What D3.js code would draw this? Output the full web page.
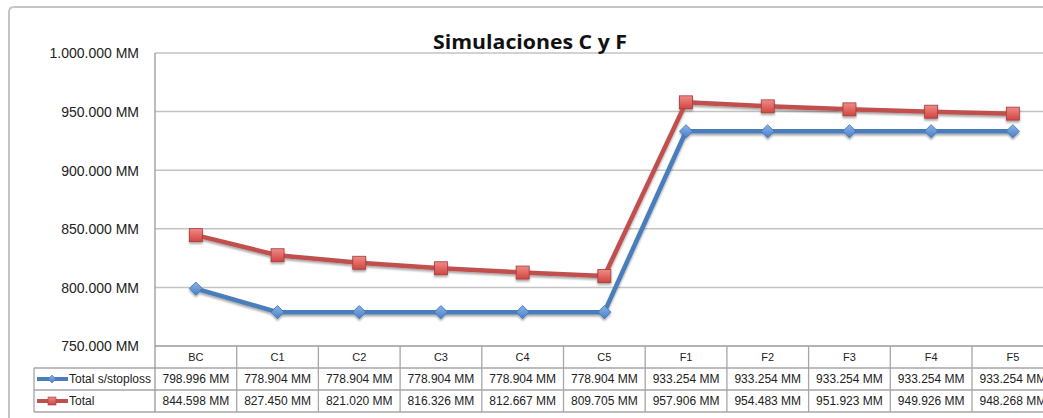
<!DOCTYPE html>
<html><head><meta charset="utf-8">
<script src="https://cdn.jsdelivr.net/npm/d3@7"></script>
<style>
html,body{margin:0;padding:0;background:#fff;}
svg{display:block;font-family:"Liberation Sans",Arial,sans-serif;}
</style></head>
<body>
<svg id="c" width="1043" height="418"></svg>
<script>
const title = "Simulaciones C y F";
const categories = ["BC","C1","C2","C3","C4","C5","F1","F2","F3","F4","F5"];
const seriesNames = ["Total s/stoploss","Total"];
const sinStoploss = [798.996,778.904,778.904,778.904,778.904,778.904,933.254,933.254,933.254,933.254,933.254];
const total = [844.598,827.450,821.020,816.326,812.667,809.705,957.906,954.483,951.923,949.926,948.268];
const yTicks = [750,800,850,900,950,1000];

(function(){
const fmtMM = v => {
  const n = Math.round(v*1000);
  return d3.format(",")(n).replace(/,/g,".") + " MM";
};

const svg = d3.select("#c");
const pLeft = 155, pTop = 53, pBottom = 346;
const band = 81.7;
const x = d3.scaleBand().domain(categories).range([pLeft, pLeft + band*categories.length]).paddingInner(0).paddingOuter(0);
const y = d3.scaleLinear().domain([750,1000]).range([pBottom, pTop]);

const defs = svg.append("defs");
const sh = defs.append("filter").attr("id","sh").attr("x","-20%").attr("y","-20%").attr("width","140%").attr("height","160%");
sh.append("feGaussianBlur").attr("in","SourceAlpha").attr("stdDeviation",1.2).attr("result","b");
sh.append("feOffset").attr("in","b").attr("dx",0).attr("dy",1.5).attr("result","o");
sh.append("feComponentTransfer").attr("in","o").attr("result","o2").append("feFuncA").attr("type","linear").attr("slope",0.35);
const mg = sh.append("feMerge"); mg.append("feMergeNode").attr("in","o2"); mg.append("feMergeNode").attr("in","SourceGraphic");

const gr = defs.append("linearGradient").attr("id","gRed").attr("x1",0).attr("y1",0).attr("x2",0).attr("y2",1);
gr.append("stop").attr("offset","0%").attr("stop-color","#f08a88");
gr.append("stop").attr("offset","100%").attr("stop-color","#d24541");
const gb = defs.append("linearGradient").attr("id","gBlue").attr("x1",0).attr("y1",0).attr("x2",0).attr("y2",1);
gb.append("stop").attr("offset","0%").attr("stop-color","#8ab4ea");
gb.append("stop").attr("offset","100%").attr("stop-color","#4a7fc8");

// outer chart border
svg.append("path").attr("d","M9,430 L9,12 Q9,7 14,7 L1050,7").attr("fill","none").attr("stroke","#c4c4c4").attr("stroke-width",2);

// gridlines
svg.append("g").selectAll("line").data(yTicks.filter(t=>t>750)).join("line")
  .attr("x1",pLeft).attr("x2",1043).attr("y1",d=>y(d)).attr("y2",d=>y(d))
  .attr("stroke","#c3c3c3").attr("stroke-width",1.5);

// y axis
const yAxis = d3.axisLeft(y).tickValues(yTicks).tickFormat(fmtMM).tickSize(0).tickPadding(16);
const ya = svg.append("g").attr("transform",`translate(${pLeft},0)`).call(yAxis);
ya.select(".domain").remove();
ya.selectAll("text").attr("font-size",14).attr("fill","#222").attr("font-family","'Liberation Sans',Arial,sans-serif").attr("dy","0.35em");

// table
const tL = 34, r0 = pBottom, r1 = 368, r2 = 390, r3 = 412;
const tbl = svg.append("g").attr("stroke","#a6a6a6").attr("stroke-width",1.3).attr("fill","none");
tbl.append("line").attr("x1",pLeft).attr("x2",1043).attr("y1",r0).attr("y2",r0).attr("stroke","#9a9a9a");
[r1,r2,r3].forEach(r=>tbl.append("line").attr("x1",tL).attr("x2",1043).attr("y1",r).attr("y2",r));
tbl.append("line").attr("x1",tL).attr("x2",tL).attr("y1",r1).attr("y2",r3);
tbl.append("line").attr("x1",pLeft).attr("x2",pLeft).attr("y1",pTop).attr("y2",r3).attr("stroke","#9a9a9a");
tbl.selectAll("line.cs").data(categories).join("line").attr("class","cs")
  .attr("x1",d=>x(d)+x.bandwidth()).attr("x2",d=>x(d)+x.bandwidth()).attr("y1",r0).attr("y2",r3);

// header labels
svg.append("g").selectAll("text").data(categories).join("text")
  .attr("x",d=>x(d)+x.bandwidth()/2).attr("y",(r0+r1)/2).attr("dy","0.35em")
  .attr("text-anchor","middle").attr("font-size",11).attr("fill","#222").text(d=>d);

const rows = [{name:seriesNames[0], vals:sinStoploss, y0:r1, y1:r2, color:"#4a7ebb", grad:"url(#gBlue)", stroke:"#3c6db0", shape:"diamond"},
              {name:seriesNames[1], vals:total, y0:r2, y1:r3, color:"#c0504d", grad:"url(#gRed)", stroke:"#a33b38", shape:"square"}];

rows.forEach(r=>{
  svg.append("g").selectAll("text").data(categories).join("text")
    .attr("x",d=>x(d)+x.bandwidth()/2).attr("y",(r.y0+r.y1)/2).attr("dy","0.35em")
    .attr("text-anchor","middle").attr("font-size",12).attr("fill","#222")
    .text((d,i)=>fmtMM(r.vals[i]));
  const cy = (r.y0+r.y1)/2;
  const lg = svg.append("g");
  lg.append("line").attr("x1",37).attr("x2",68).attr("y1",cy).attr("y2",cy).attr("stroke",r.color).attr("stroke-width",4);
  if(r.shape==="diamond"){
    lg.append("path").attr("d",d3.symbol(d3.symbolDiamond2,40)()).attr("transform",`translate(52,${cy})`).attr("fill",r.grad).attr("stroke",r.stroke).attr("stroke-width",0.6);
  } else {
    lg.append("rect").attr("x",48).attr("y",cy-4).attr("width",8).attr("height",8).attr("fill",r.grad).attr("stroke",r.stroke).attr("stroke-width",0.6);
  }
  lg.append("text").attr("x",69).attr("y",cy).attr("dy","0.35em").attr("font-size",12).attr("fill","#222").text(r.name);
});

// lines
const line = d3.line().x((d,i)=>x(categories[i])+x.bandwidth()/2).y(d=>y(d));
rows.forEach(r=>{
  const g = svg.append("g").attr("filter","url(#sh)");
  g.append("path").datum(r.vals).attr("d",line).attr("fill","none").attr("stroke",r.color).attr("stroke-width",4.5).attr("stroke-linejoin","round");
  if(r.shape==="diamond"){
    g.selectAll("path.m").data(r.vals).join("path").attr("class","m")
      .attr("d",d3.symbol(d3.symbolDiamond2,110)())
      .attr("transform",(d,i)=>`translate(${x(categories[i])+x.bandwidth()/2},${y(d)})`)
      .attr("fill",r.grad).attr("stroke",r.stroke).attr("stroke-width",0.8);
  } else {
    g.selectAll("rect.m").data(r.vals).join("rect").attr("class","m")
      .attr("x",(d,i)=>x(categories[i])+x.bandwidth()/2-6.5).attr("y",d=>y(d)-6.5)
      .attr("width",13).attr("height",13)
      .attr("fill",r.grad).attr("stroke",r.stroke).attr("stroke-width",0.8);
  }
});

// title
svg.append("text").attr("x",530).attr("y",49).attr("text-anchor","middle")
  .attr("font-size",20).attr("font-weight","bold").attr("fill","#111")
  .attr("font-family","'Open Sans','Liberation Sans',sans-serif")
  .attr("textLength",194).attr("lengthAdjust","spacingAndGlyphs").text(title);
})();
</script>
</body></html>
